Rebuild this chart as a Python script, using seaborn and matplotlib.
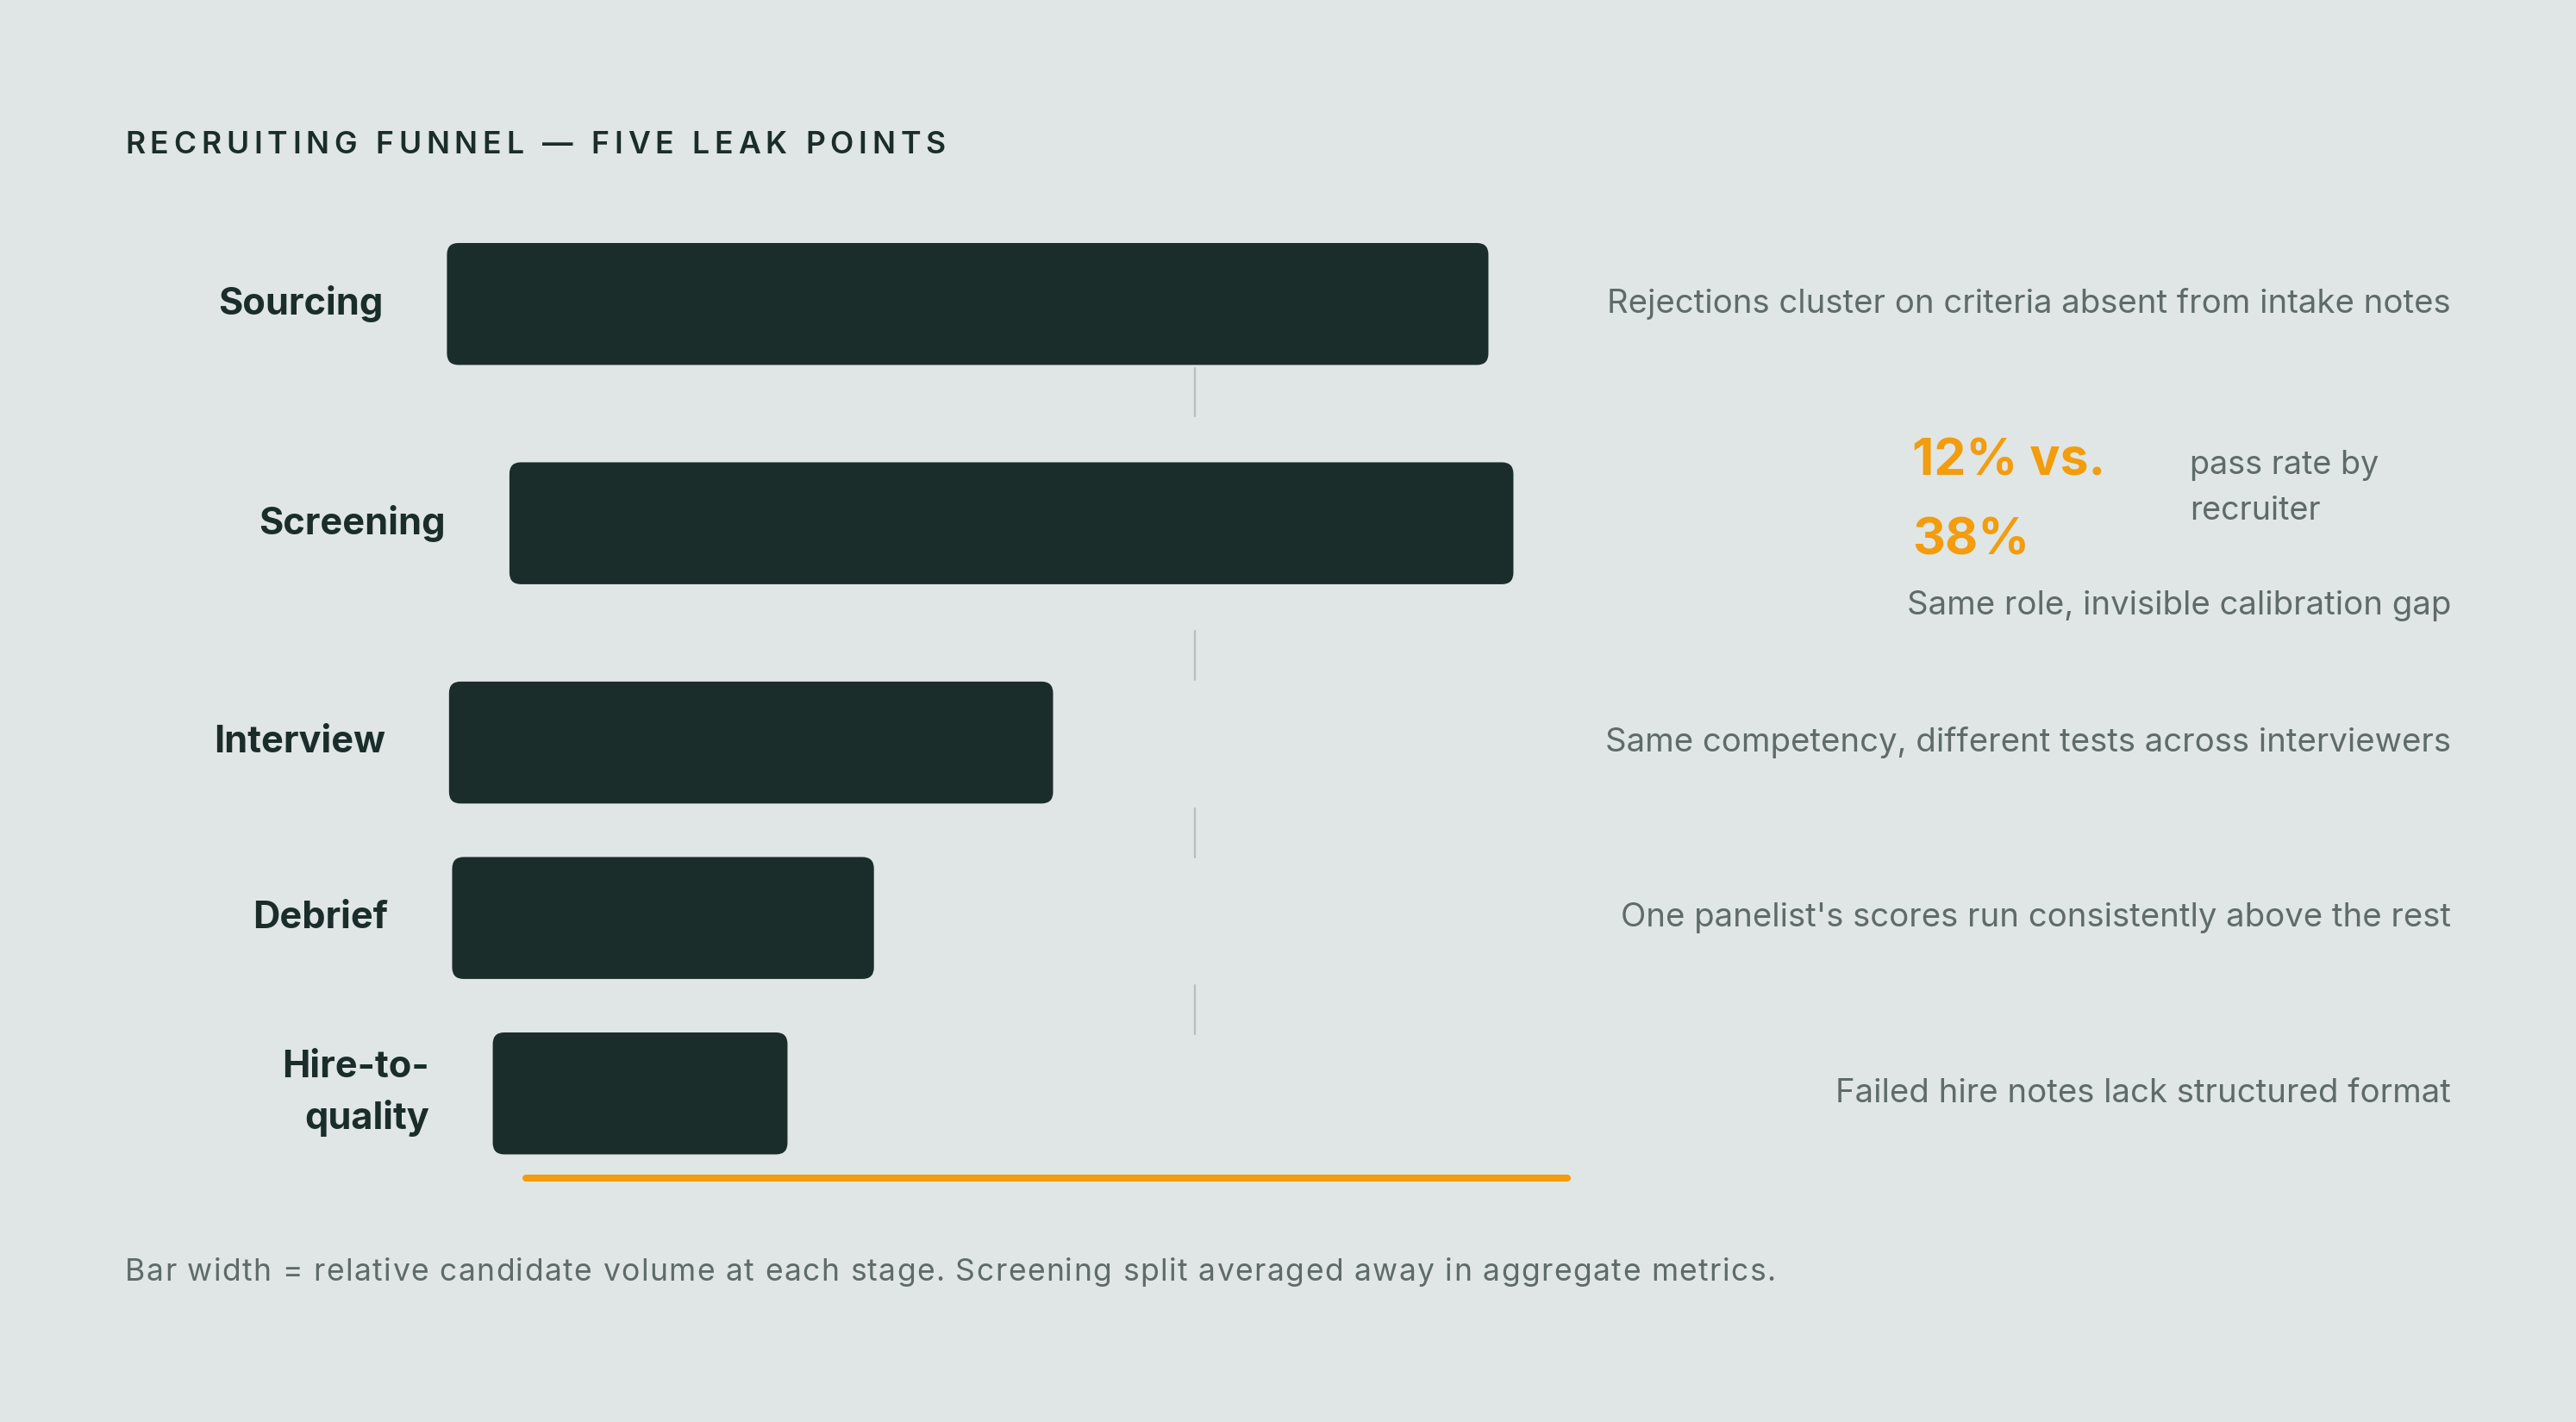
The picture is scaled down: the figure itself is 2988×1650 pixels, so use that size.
import matplotlib
matplotlib.use("Agg")
import matplotlib.pyplot as plt
import matplotlib.transforms as mtransforms
from matplotlib.patches import FancyBboxPatch
import pandas as pd
import seaborn as sns

# Data
stages = ["Sourcing", "Screening", "Interview", "Debrief", "Hire-to-\nquality"]
volume = [100, 96.4, 58, 40.5, 28.3]    # relative candidate volume (bar width)
offset = [0, 6, 0.2, 0.5, 4.4]           # left start of each bar
notes = [
    "Rejections cluster on criteria absent from intake notes",
    "Same role, invisible calibration gap",
    "Same competency, different tests across interviewers",
    "One panelist's scores run consistently above the rest",
    "Failed hire notes lack structured format",
]
big_stat = ["12% vs.", "38%"]
stat_label = ["pass rate by", "recruiter"]
title = "RECRUITING FUNNEL \u2014 FIVE LEAK POINTS"
footnote = ("Bar width = relative candidate volume at each stage. "
            "Screening split averaged away in aggregate metrics.")

# Layout
row_y = [0, 1.0, 2.0, 2.8, 3.6]
bar_h = 0.556

BG = "#dfe6e5"
DARK = "#1b2d2b"
GRAY = "#5f6b67"
ORANGE = "#f39c0e"
TICK = "#b7bebc"

sns.set_theme(style="white", rc={"figure.facecolor": BG, "axes.facecolor": BG})
plt.rcParams["font.family"] = ["Inter", "DejaVu Sans"]

fig = plt.figure(figsize=(14.94, 8.25), dpi=200)
ax = fig.add_axes([0.1735, 0.1882, 0.4043, 0.6409])

df = pd.DataFrame({"stage": stages, "volume": volume, "y": row_y})
sns.barplot(data=df, x="volume", y="y", orient="h", native_scale=True,
            width=bar_h / 0.8, color=DARK, ax=ax)

# swap the flat bars for rounded ones, shifted to their start
patches = list(ax.patches)
for p, off in zip(sorted(patches, key=lambda q: q.get_y()), offset):
    x0, y0, w, h = p.get_x(), p.get_y(), p.get_width(), p.get_height()
    p.remove()
    rb = FancyBboxPatch((x0 + off, y0), w, h,
                        boxstyle="round,pad=0,rounding_size=1.1",
                        mutation_aspect=0.048, fc=DARK, ec="none",
                        clip_on=False)
    ax.add_patch(rb)

ax.set_xlim(0, 100)
ax.set_ylim(3.6 + bar_h / 2, -bar_h / 2)
ax.axis("off")

# stage labels
for s, y, off in zip(stages, row_y, offset):
    ax.annotate(s, (off, y), xytext=(-26.6, 0), textcoords="offset points",
                ha="right", va="center", ma="right", fontsize=15.6,
                fontweight="bold", color=DARK, linespacing=1.5)

# connector ticks between stages
tick_spans = [(0.293, 0.511), (1.489, 1.714), (2.30, 2.526), (3.105, 3.33)]
for a, b in tick_spans:
    ax.plot([71.8, 71.8], [a, b], color=TICK, lw=0.8, clip_on=False)

# orange baseline
ax.plot([7.6, 107.6], [3.985, 3.985], color=ORANGE, lw=2.9,
        solid_capstyle="round", clip_on=False)

# right-side notes
tr = mtransforms.blended_transform_factory(fig.transFigure, ax.transData)
for i, (n, y) in enumerate(zip(notes, row_y)):
    ny = 1.376 if i == 1 else y
    ax.text(0.9515, ny, n, transform=tr, ha="right", va="center",
            fontsize=13.8, color=GRAY)

for line, y in zip(big_stat, [0.72, 1.08]):
    ax.text(0.7423, y, line, transform=tr, ha="left", va="center",
            fontsize=21.2, fontweight="bold", color=ORANGE)
for line, y in zip(stat_label, [0.735, 0.945]):
    ax.text(0.8501, y, line, transform=tr, ha="left", va="center",
            fontsize=13.6, color=GRAY)


def tracked(x, y, s, size, track, **kw):
    r = fig.canvas.get_renderer()
    px = x * fig.bbox.width
    for ch in s:
        t = fig.text(px / fig.bbox.width, y, ch, fontsize=size, va="center",
                     ha="left", **kw)
        w = t.get_window_extent(renderer=r).width
        if ch == " ":
            w = size * fig.dpi / 72 * 0.28
        px += w + track


tracked(0.0485, 0.898, title, 12.8, 5.8, color=DARK, fontweight="semibold")
tracked(0.0485, 0.105, footnote, 12.8, 1.4, color=GRAY)

fig.savefig("out.png", dpi=200, facecolor=BG)
